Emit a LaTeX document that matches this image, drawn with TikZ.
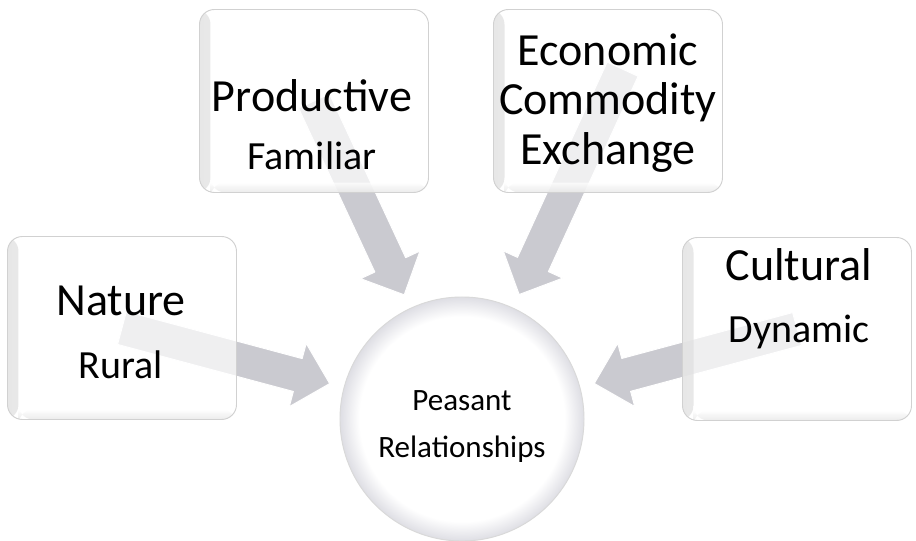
\documentclass[tikz,border=0pt]{standalone}
\usepackage{fontspec}
\setmainfont{Carlito}
\usetikzlibrary{calc,backgrounds}

\definecolor{arrowgray}{RGB}{202,202,208}
\definecolor{rimgray}{RGB}{222,222,228}

% white disc, grey towards the rim (the rim sits at 25bp)
\pgfdeclareradialshading{hubglow}{\pgfpoint{0bp}{0bp}}{color(0bp)=(white); color(21bp)=(white); color(25bp)=(rimgray); color(50bp)=(rimgray)}

\begin{document}
\begin{tikzpicture}[x=0.03cm, y=-0.03cm,
        card/.style={rectangle, rounded corners=0.45cm, minimum width=6.87cm, minimum height=5.49cm,
            draw=black!18, line width=0.8pt, fill=white, fill opacity=0.7,
            path picture={
                \shade[left color=black!13, right color=white] (path picture bounding box.south west) rectangle ([xshift=0.33cm]path picture bounding box.north west);
                \shade[bottom color=black!11, top color=white] ([xshift=0.33cm]path picture bounding box.south west) rectangle ([yshift=0.3cm]path picture bounding box.south east);
            }},
        hub/.style={circle, minimum size=7.32cm, inner sep=0pt, draw=black!15, line width=0.8pt, shade, shading=hubglow},
        cardtext/.style={align=center, inner sep=0pt},
        flow/.style={fill=arrowgray, draw=white, line width=0.8pt, line join=round}]
                \useasboundingbox (0,0) rectangle (916,541);

                % the four boxes and the circle
                \node[card] (nat) at (122,328) {};
                \node[card] (prod) at (314,101) {};
                \node[card] (econ) at (608,101) {};
                \node[card] (cult) at (797,329) {};
                \node[hub] (hub) at (462,419) {};

                \node[cardtext, font=\fontsize{39.3}{53.8}\selectfont] (natT) at (121,332)
                    {Nature\\{\fontsize{34.1}{40}\selectfont Rural}};
                \node[cardtext, font=\fontsize{39.3}{49.5}\selectfont] (prodT) at (312,125)
                    {Productive\\{\fontsize{34.1}{40}\selectfont Familiar}};
                \node[cardtext, font=\fontsize{39.3}{42.3}\selectfont] (econT) at (608,103)
                    {Economic\\Commodity\\Exchange};
                \node[cardtext, font=\fontsize{39.3}{52.9}\selectfont] (cultT) at (799,299)
                    {Cultural\\{\fontsize{34.1}{40}\selectfont Dynamic}};
                \node[cardtext, font=\fontsize{26.5}{40.1}\selectfont] (hubT) at (462,427)
                    {Peasant\\Relationships};

                % arrows, tail in the box, tip short of the circle
                \coordinate (natTail) at (nat);
                \coordinate (natTip) at ($(hub)!4.11cm!(nat)$);
                \coordinate (natBase) at ($(natTip)!0.99cm!(natTail)$);
                \coordinate (natA) at ($(natTail)!0.51cm!90:(natTip)$);
                \coordinate (natB) at ($(natBase)!0.51cm!90:(natTip)$);
                \coordinate (natC) at ($(natBase)!0.98cm!90:(natTip)$);
                \coordinate (natD) at ($(natBase)!0.98cm!-90:(natTip)$);
                \coordinate (natE) at ($(natBase)!0.51cm!-90:(natTip)$);
                \coordinate (natF) at ($(natTail)!0.51cm!-90:(natTip)$);

                \coordinate (prodTail) at (prod);
                \coordinate (prodTip) at ($(hub)!4.11cm!(prod)$);
                \coordinate (prodBase) at ($(prodTip)!0.99cm!(prodTail)$);
                \coordinate (prodA) at ($(prodTail)!0.51cm!90:(prodTip)$);
                \coordinate (prodB) at ($(prodBase)!0.51cm!90:(prodTip)$);
                \coordinate (prodC) at ($(prodBase)!0.98cm!90:(prodTip)$);
                \coordinate (prodD) at ($(prodBase)!0.98cm!-90:(prodTip)$);
                \coordinate (prodE) at ($(prodBase)!0.51cm!-90:(prodTip)$);
                \coordinate (prodF) at ($(prodTail)!0.51cm!-90:(prodTip)$);

                \coordinate (econTail) at ($(hub)!1.1!(econ)$);
                \coordinate (econTip) at ($(hub)!4.11cm!(econ)$);
                \coordinate (econBase) at ($(econTip)!0.99cm!(econTail)$);
                \coordinate (econA) at ($(econTail)!0.51cm!90:(econTip)$);
                \coordinate (econB) at ($(econBase)!0.51cm!90:(econTip)$);
                \coordinate (econC) at ($(econBase)!0.98cm!90:(econTip)$);
                \coordinate (econD) at ($(econBase)!0.98cm!-90:(econTip)$);
                \coordinate (econE) at ($(econBase)!0.51cm!-90:(econTip)$);
                \coordinate (econF) at ($(econTail)!0.51cm!-90:(econTip)$);

                \coordinate (cultTail) at (cult);
                \coordinate (cultTip) at ($(hub)!4.11cm!(cult)$);
                \coordinate (cultBase) at ($(cultTip)!0.99cm!(cultTail)$);
                \coordinate (cultA) at ($(cultTail)!0.51cm!90:(cultTip)$);
                \coordinate (cultB) at ($(cultBase)!0.51cm!90:(cultTip)$);
                \coordinate (cultC) at ($(cultBase)!0.98cm!90:(cultTip)$);
                \coordinate (cultD) at ($(cultBase)!0.98cm!-90:(cultTip)$);
                \coordinate (cultE) at ($(cultBase)!0.51cm!-90:(cultTip)$);
                \coordinate (cultF) at ($(cultTail)!0.51cm!-90:(cultTip)$);

                \begin{pgfonlayer}{background}
                \fill[white] (0,0) rectangle (916,541);
                \draw[flow] (natA) -- (natB) -- (natC) -- (natTip) -- (natD) -- (natE) -- (natF) -- cycle;
                \draw[flow] (prodA) -- (prodB) -- (prodC) -- (prodTip) -- (prodD) -- (prodE) -- (prodF) -- cycle;
                \draw[flow] (econA) -- (econB) -- (econC) -- (econTip) -- (econD) -- (econE) -- (econF) -- cycle;
                \draw[flow] (cultA) -- (cultB) -- (cultC) -- (cultTip) -- (cultD) -- (cultE) -- (cultF) -- cycle;
                \end{pgfonlayer}
\end{tikzpicture}
\end{document}
